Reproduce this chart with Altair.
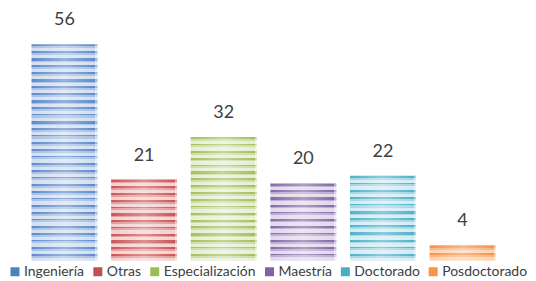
import altair as alt
import pandas as pd

categories = ["Ingeniería", "Otras", "Especialización", "Maestría", "Doctorado", "Posdoctorado"]
values = [56, 21, 32, 20, 22, 4]
base_colors = ["#4F81BD", "#C0504D", "#9BBB59", "#8064A2", "#4BACC6", "#F79646"]
dark_colors = ["#5E8ACA", "#C75756", "#A3BF62", "#8469A8", "#52B0CA", "#F7934A"]
mid_colors = ["#A6BFE4", "#E39A99", "#CBDDA6", "#B9A9D2", "#A3D6E6", "#F9B47E"]
light_colors = ["#D2DFF2", "#F5D0D0", "#E6EFD3", "#E1D9EC", "#D3ECF4", "#FDD3B0"]

df = pd.DataFrame({"cat": categories, "val": values})

YMAX = 65.3
H = 253
PX = H / YMAX

x_enc = alt.X("cat:N", sort=categories, axis=None,
              scale=alt.Scale(paddingInner=0.172, paddingOuter=0.295))
y_enc = alt.Y("val:Q", axis=None, scale=alt.Scale(domain=[0, YMAX], nice=False, zero=True))

sheen = alt.Gradient(
    gradient="linear", x1=0, x2=1, y1=0, y2=0,
    stops=[alt.GradientStop(offset=0, color="rgba(255,255,255,0)"),
           alt.GradientStop(offset=0.5, color="rgba(255,255,255,0.35)"),
           alt.GradientStop(offset=0.97, color="rgba(255,255,255,0)"),
           alt.GradientStop(offset=0.97, color="rgba(255,255,255,0.45)"),
           alt.GradientStop(offset=1, color="rgba(255,255,255,0.45)")])

layers = []
for c, v, d, m, l in zip(categories, values, dark_colors, mid_colors, light_colors):
    h = v * PX
    n = max(2, round(h / 7))
    stops = []
    for i in range(n):
        a = i / n
        e = (i + 1) / n
        p = e - a
        k = i % 3
        w_dark = [0.3, 0.2, 0.35][k]
        w_mid = [0.25, 0.3, 0.2][k]
        b1 = a + p * w_dark
        b2 = b1 + p * w_mid
        stops += [alt.GradientStop(offset=a, color=d), alt.GradientStop(offset=b1, color=d),
                  alt.GradientStop(offset=b1, color=m), alt.GradientStop(offset=b2, color=m),
                  alt.GradientStop(offset=b2, color=l), alt.GradientStop(offset=e, color=l)]
    grad = alt.Gradient(gradient="linear", x1=0, x2=0, y1=0, y2=1, stops=stops)
    layers.append(
        alt.Chart(df).transform_filter(alt.datum.cat == c)
        .mark_bar(color=grad)
        .encode(x=x_enc, y=y_enc)
    )

overlay = alt.Chart(df).mark_bar(color=sheen).encode(x=x_enc, y=y_enc)

legend_layer = alt.Chart(df).mark_square(size=0, opacity=1).encode(
    x=x_enc, y=y_enc,
    color=alt.Color("cat:N", sort=categories,
                    scale=alt.Scale(domain=categories, range=base_colors),
                    legend=alt.Legend(title=None, orient="none", direction="horizontal",
                                      legendX=0, legendY=257, symbolType="square",
                                      symbolSize=81, symbolOpacity=1, labelFontSize=14,
                                      labelFont="Lato", labelColor="#404040",
                                      labelOffset=2, columnPadding=6, padding=0))
)

text = alt.Chart(df).mark_text(dy=-19, baseline="alphabetic", fontSize=18,
                               font="Lato", color="#404040").encode(
    x=x_enc, y=y_enc, text="val:Q"
)

chart = alt.layer(*layers, overlay, legend_layer, text).properties(
    width=512, height=H, padding=0, background="white"
).configure_view(stroke=None)

chart.save("out.html", embed_options={"renderer": "svg", "actions": False})
